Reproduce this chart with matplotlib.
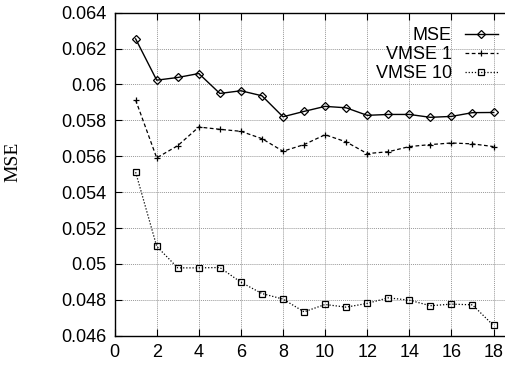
import matplotlib.pyplot as plt

# data
iters = list(range(1, 19))
mse = [0.06254, 0.06024, 0.06039, 0.06061, 0.05950, 0.05965, 0.05937, 0.05820, 0.05850,
       0.05878, 0.05870, 0.05828, 0.05833, 0.05833, 0.05817, 0.05822, 0.05843, 0.05844]
vmse1 = [0.05913, 0.05591, 0.05659, 0.05763, 0.05750, 0.05739, 0.05698, 0.05628, 0.05665,
         0.05720, 0.05680, 0.05615, 0.05625, 0.05654, 0.05665, 0.05674, 0.05669, 0.05654]
vmse10 = [0.05511, 0.05098, 0.04978, 0.04978, 0.04980, 0.04898, 0.04835, 0.04804, 0.04733,
          0.04774, 0.04759, 0.04780, 0.04811, 0.04798, 0.04767, 0.04776, 0.04772, 0.04657]
xticks = list(range(0, 19, 2))
yticks = [0.046, 0.048, 0.05, 0.052, 0.054, 0.056, 0.058, 0.06, 0.062, 0.064]

plt.rcParams['font.family'] = ['Liberation Sans', 'DejaVu Sans']

fig = plt.figure(figsize=(5.05, 3.66), dpi=100)
ax = fig.add_axes([114.6 / 505, 30.3 / 366, (505 - 114.6) / 505, 323.0 / 366])

ax.plot(iters, mse, color='black', lw=1.0, marker='D', ms=3.8, mfc='none', mew=0.9,
        label='MSE')
ax.plot(iters, vmse1, color='black', lw=0.9, ls=(0, (3, 2)), marker='+', ms=4.5, mew=0.9,
        label='VMSE 1')
ax.plot(iters, vmse10, color='black', lw=0.9, ls=(0, (1, 1.5)), marker='s', ms=4, mfc='none',
        mew=0.9, label='VMSE 10')

ax.set_xlim(0, (505 - 114.6) / 21.05)
ax.set_ylim(0.046, 0.064)
ax.set_xticks(xticks)
ax.set_yticks(yticks)
ax.set_yticklabels(['%g' % v for v in yticks])
ax.tick_params(direction='in', length=5, width=0.8, labelsize=13, top=True, pad=6,
               colors='black')
ax.grid(True, color='#999999', ls=(0, (1, 1)), lw=0.7)
ax.spines['right'].set_visible(False)
for s in ['left', 'bottom', 'top']:
    ax.spines[s].set_linewidth(1.0)

ax.set_ylabel('MSE', family=['Liberation Serif', 'DejaVu Serif'], fontsize=14)
ax.yaxis.set_label_coords(-0.238, 0.538)

leg = ax.legend(loc='upper right', bbox_to_anchor=(498 / 505, 1 - 27 / 366),
                bbox_transform=fig.transFigure, frameon=False, markerfirst=False,
                fontsize=13, handlelength=1.85, labelspacing=0.12, handletextpad=0.7,
                borderpad=0.0, borderaxespad=0.0)

fig.savefig('out.png', dpi=100)
